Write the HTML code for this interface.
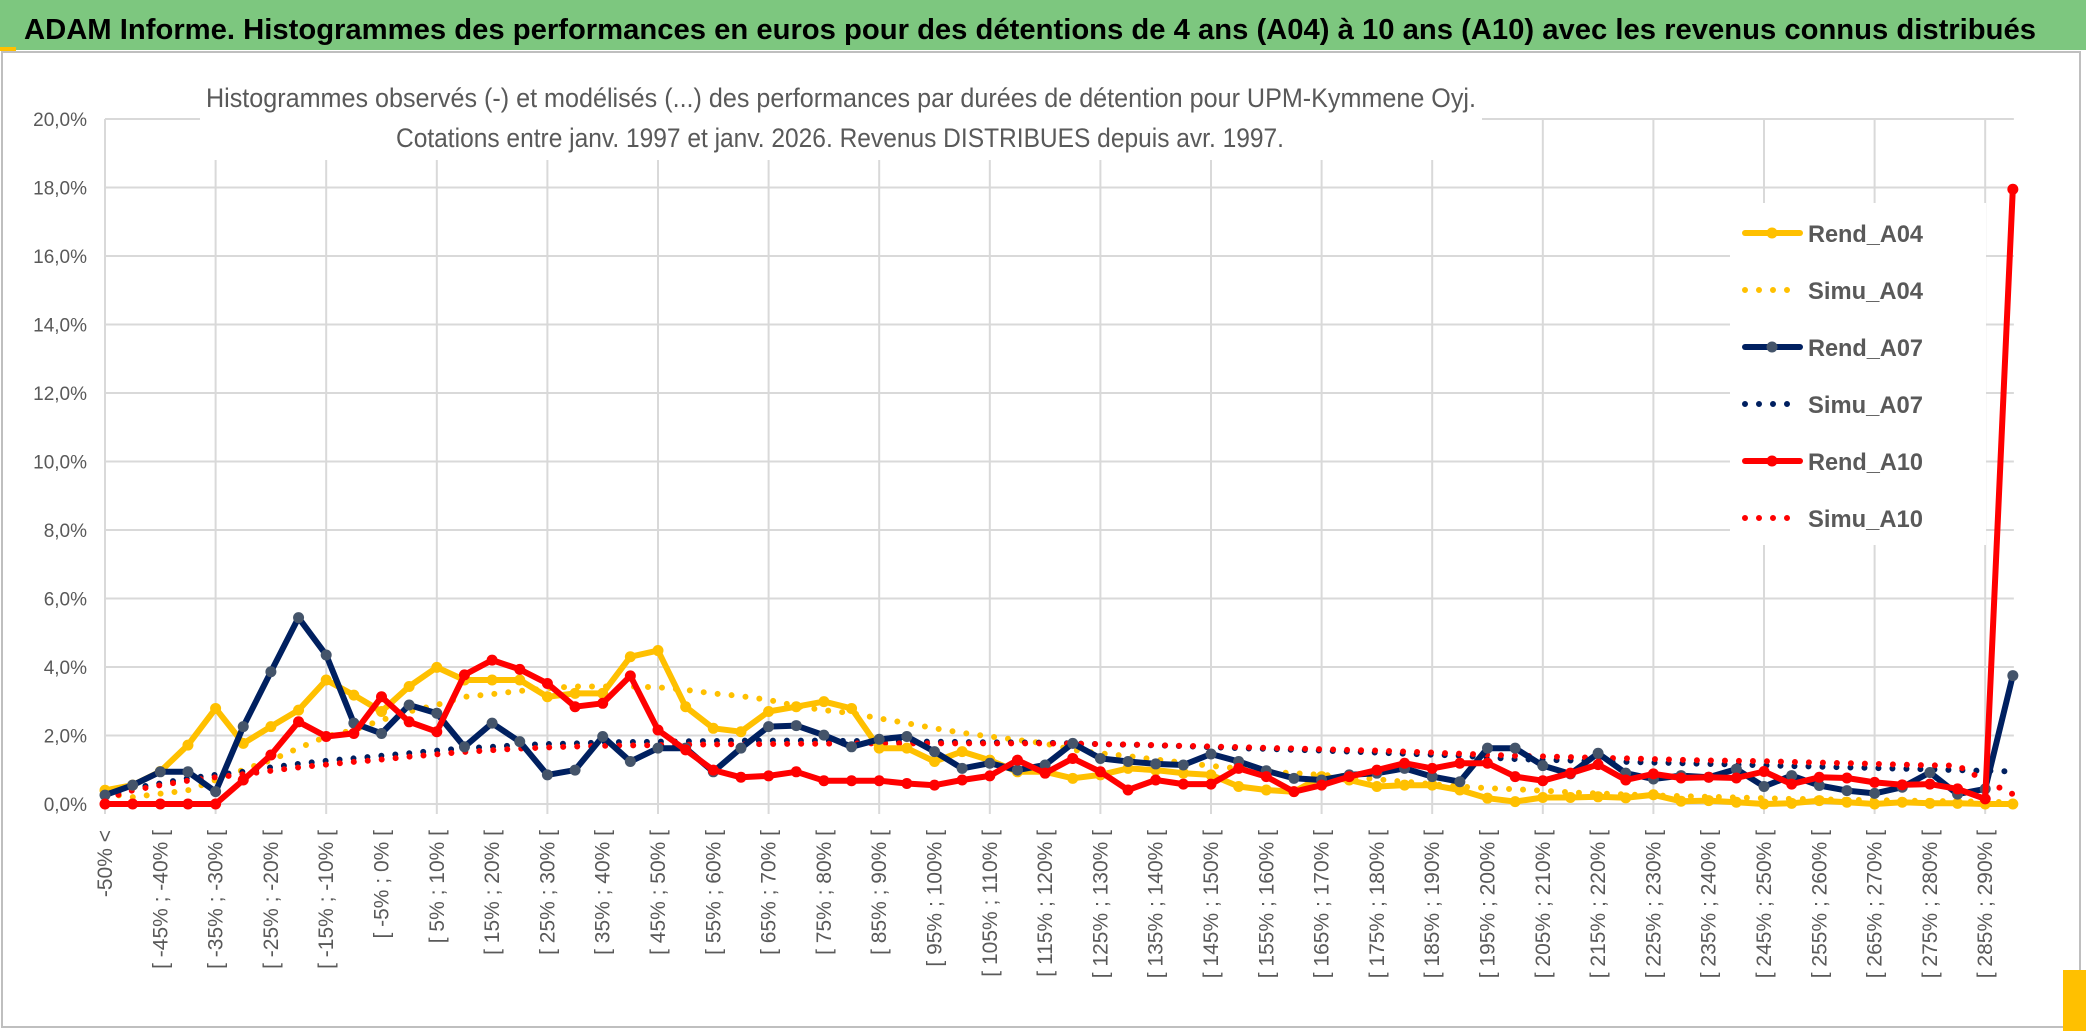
<!DOCTYPE html>
<html><head><meta charset="utf-8"><style>
html,body{margin:0;padding:0;background:#fff}
svg{display:block}
text{font-family:"Liberation Sans",sans-serif}
</style></head><body>
<svg id="chart" width="2086" height="1031" viewBox="0 0 2086 1031" xmlns="http://www.w3.org/2000/svg">
<rect x="0" y="0" width="2086" height="1031" fill="#fff"/>
<rect x="0" y="0" width="2086" height="50" fill="#7dc77f"/>
<rect x="0" y="47" width="16" height="4" fill="#ffc000"/>
<text x="24" y="39" font-size="29" font-weight="bold" fill="#000" textLength="2012" lengthAdjust="spacingAndGlyphs">ADAM Informe. Histogrammes des performances en euros pour des détentions de 4 ans (A04) à 10 ans (A10) avec les revenus connus distribués</text>
<rect x="2" y="52" width="2078" height="975" fill="#fff" stroke="#bfbfbf" stroke-width="2"/>
<rect x="2063" y="970" width="23" height="61" fill="#ffc000"/>
<g id="grid"></g>
<rect x="200" y="62" width="1282" height="98" fill="#fff"/>
<text x="841" y="107" font-size="27" fill="#595959" text-anchor="middle" textLength="1270" lengthAdjust="spacingAndGlyphs">Histogrammes observés (-) et modélisés (...) des performances par durées de détention pour UPM-Kymmene Oyj.</text>
<text x="840" y="147" font-size="27" fill="#595959" text-anchor="middle" textLength="888" lengthAdjust="spacingAndGlyphs">Cotations entre janv. 1997 et janv. 2026. Revenus DISTRIBUES depuis avr. 1997.</text>
<rect x="1730" y="203" width="256" height="342" fill="#fff"/>
<g id="series"></g>
<g id="legend"></g>
</svg>
<script>
const categories = [];
categories.push("-50% <");
for (let k = 1; k <= 68; k++) categories.push("[ " + (-55 + 5 * k) + "% ; " + (-50 + 5 * k) + "% [");
categories.push("> 290%");
const yTicks = [0, 2, 4, 6, 8, 10, 12, 14, 16, 18, 20];
const yTickLabels = ["0,0%", "2,0%", "4,0%", "6,0%", "8,0%", "10,0%", "12,0%", "14,0%", "16,0%", "18,0%", "20,0%"];
const rendA04 = [0.4,0.55,0.95,1.72,2.79,1.77,2.26,2.74,3.62,3.18,2.70,3.43,3.99,3.62,3.62,3.62,3.13,3.23,3.23,4.30,4.48,2.84,2.21,2.11,2.70,2.84,2.99,2.79,1.63,1.63,1.24,1.53,1.28,0.94,0.94,0.75,0.85,1.04,0.99,0.90,0.85,0.51,0.41,0.36,0.80,0.70,0.51,0.55,0.55,0.41,0.17,0.07,0.19,0.19,0.21,0.18,0.27,0.08,0.10,0.05,0.0,0.02,0.10,0.05,0.0,0.05,0.02,0.02,0.0,0.0];
const simuA04 = [0.3,0.2,0.3,0.4,0.7,1.0,1.28,1.63,1.97,2.16,2.45,2.70,2.89,3.13,3.21,3.30,3.38,3.43,3.43,3.43,3.41,3.33,3.23,3.15,3.04,2.86,2.74,2.65,2.50,2.36,2.21,2.08,1.97,1.87,1.77,1.58,1.48,1.40,1.30,1.21,1.11,1.04,0.94,0.90,0.85,0.80,0.72,0.65,0.58,0.51,0.46,0.43,0.39,0.34,0.31,0.28,0.25,0.23,0.21,0.19,0.17,0.15,0.14,0.12,0.11,0.10,0.09,0.08,0.07,0.05];
const rendA07 = [0.26,0.55,0.94,0.94,0.36,2.26,3.86,5.44,4.35,2.36,2.06,2.89,2.65,1.67,2.36,1.82,0.85,0.99,1.97,1.24,1.63,1.63,0.94,1.63,2.26,2.29,2.01,1.67,1.89,1.97,1.53,1.04,1.19,0.99,1.14,1.77,1.33,1.24,1.17,1.14,1.46,1.24,0.97,0.75,0.70,0.85,0.90,1.04,0.80,0.65,1.63,1.63,1.12,0.88,1.48,0.90,0.73,0.83,0.78,1.02,0.51,0.83,0.54,0.39,0.31,0.49,0.92,0.29,0.44,3.75];
const simuA07 = [0.2,0.46,0.6,0.75,0.85,0.94,1.07,1.17,1.26,1.33,1.41,1.48,1.56,1.63,1.67,1.72,1.75,1.77,1.80,1.81,1.82,1.83,1.84,1.85,1.85,1.85,1.85,1.84,1.84,1.83,1.82,1.81,1.80,1.80,1.79,1.77,1.75,1.73,1.71,1.69,1.66,1.63,1.61,1.58,1.56,1.53,1.50,1.47,1.44,1.41,1.36,1.31,1.29,1.27,1.25,1.23,1.21,1.19,1.17,1.15,1.13,1.11,1.09,1.07,1.05,1.03,1.01,0.99,0.97,0.95];
const rendA10 = [0,0,0,0,0,0.70,1.43,2.40,1.97,2.06,3.13,2.40,2.11,3.77,4.20,3.93,3.52,2.84,2.94,3.74,2.16,1.58,0.99,0.78,0.82,0.94,0.68,0.68,0.68,0.60,0.55,0.70,0.82,1.28,0.90,1.33,0.94,0.41,0.70,0.58,0.58,1.04,0.80,0.36,0.55,0.80,0.99,1.19,1.04,1.19,1.19,0.80,0.68,0.90,1.15,0.70,0.88,0.76,0.78,0.76,0.95,0.58,0.78,0.76,0.63,0.56,0.58,0.44,0.15,17.95];
const simuA10 = [0.15,0.4,0.55,0.68,0.78,0.87,0.97,1.07,1.15,1.23,1.30,1.38,1.45,1.52,1.57,1.62,1.65,1.68,1.70,1.71,1.72,1.73,1.74,1.75,1.75,1.76,1.76,1.77,1.77,1.77,1.77,1.77,1.77,1.77,1.77,1.76,1.75,1.74,1.72,1.70,1.68,1.66,1.64,1.62,1.60,1.58,1.56,1.53,1.50,1.47,1.44,1.41,1.39,1.37,1.35,1.33,1.31,1.29,1.27,1.26,1.25,1.23,1.21,1.19,1.17,1.15,1.13,1.12,0.68,0.29];

const NS = "http://www.w3.org/2000/svg";
const X0 = 105, DX = 27.65, Y0 = 804, PY = 34.25;
function xAt(i) { return X0 + DX * i; }
function yAt(v) { return Y0 - PY * v; }
function mk(tag, attrs, parent) {
  const e = document.createElementNS(NS, tag);
  for (const k in attrs) e.setAttribute(k, attrs[k]);
  parent.appendChild(e);
  return e;
}
const grid = document.getElementById("grid");
const xEnd = xAt(categories.length - 1) + 1;
yTicks.forEach((t, j) => {
  const l = mk("line", {x1: X0, x2: xEnd, y1: yAt(t), y2: yAt(t), stroke: "#d9d9d9", "stroke-width": 2}, grid);
  
  
  const tx = mk("text", {x: 87, y: yAt(t) + 7, "font-size": 19, fill: "#595959", "text-anchor": "end"}, grid);
  tx.textContent = yTickLabels[j];
  
  
});
categories.forEach((c, i) => {
  if (i % 4 === 0) {
    const l = mk("line", {x1: xAt(i), x2: xAt(i), y1: yAt(20), y2: Y0 + 10, stroke: "#d9d9d9", "stroke-width": 2}, grid);
    
    
  }
  if (i % 2 === 0 && i < 69) {
    const tx = mk("text", {x: 0, y: 0, "font-size": 21, fill: "#595959", "text-anchor": "end", transform: "translate(" + (xAt(i) + 7) + ",830) rotate(-90)"}, grid);
    tx.textContent = c;
    
    
  }
});
const seriesG = document.getElementById("series");
const seriesDefs = [
  {name: "Simu_A04", data: simuA04, color: "#ffc000", dotted: true},
  {name: "Simu_A07", data: simuA07, color: "#002060", dotted: true},
  {name: "Simu_A10", data: simuA10, color: "#ff0000", dotted: true},
  {name: "Rend_A04", data: rendA04, color: "#ffc000", marker: "#ffc000"},
  {name: "Rend_A07", data: rendA07, color: "#002060", marker: "#44546a"},
  {name: "Rend_A10", data: rendA10, color: "#ff0000", marker: "#ff0000"}
];
seriesDefs.forEach(s => {
  const pts = s.data.map((v, i) => xAt(i).toFixed(1) + "," + yAt(v).toFixed(1)).join(" ");
  const pl = mk("polyline", {points: pts, fill: "none", stroke: s.color, "stroke-width": 6, "stroke-linejoin": "round", "stroke-linecap": "round"}, seriesG);
  if (s.dotted) pl.setAttribute("stroke-dasharray", "0 14");
  
  
  if (!s.dotted) {
    s.data.forEach((v, i) => {
      const c = mk("circle", {cx: xAt(i), cy: yAt(v), r: 5.5, fill: s.marker}, seriesG);
      
      
    });
  }
});
const legendG = document.getElementById("legend");
const legendOrder = ["Rend_A04", "Simu_A04", "Rend_A07", "Simu_A07", "Rend_A10", "Simu_A10"];
legendOrder.forEach((n, k) => {
  const s = seriesDefs.find(d => d.name === n);
  const y = 233 + 57 * k;
  const ln = mk("line", {x1: 1745, x2: 1800, y1: y, y2: y, stroke: s.color, "stroke-width": 6, "stroke-linecap": "round"}, legendG);
  if (s.dotted) ln.setAttribute("stroke-dasharray", "0 14");
  
  
  if (!s.dotted) {
    const c = mk("circle", {cx: 1772, cy: y, r: 5.5, fill: s.marker}, legendG);
    
    
  }
  const tx = mk("text", {x: 1808, y: y + 9, "font-size": 24, "font-weight": "bold", fill: "#595959", textLength: 115, lengthAdjust: "spacingAndGlyphs"}, legendG);
  tx.textContent = n;
  
  
});
</script>
</body></html>
